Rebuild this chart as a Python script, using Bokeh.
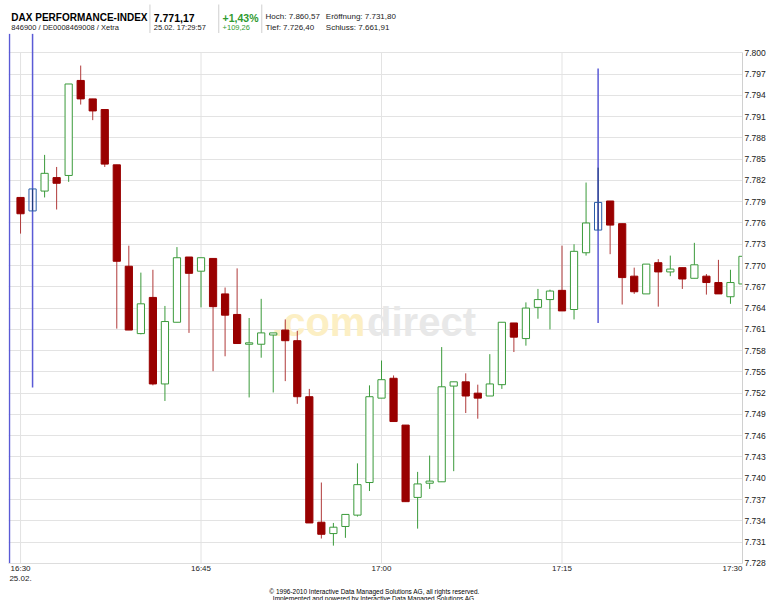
from bokeh.plotting import figure
from bokeh.models import Range1d, FixedTicker, LinearAxis
from bokeh.layouts import column
from bokeh.core.properties import value
from bokeh.embed import file_html
from bokeh.resources import INLINE

# ---------------- data (minutes after 16:30, index points) ----------------
minutes = list(range(61))
opens = [7.7796, 7.7777, 7.7805, 7.7824, 7.7827, 7.7961, 7.7935, 7.7920, 7.7842, 7.7699,
         7.7604, 7.7655, 7.7533, 7.7620, 7.7712, 7.7692, 7.7710, 7.7660, 7.7631, 7.7589,
         7.7589, 7.7602, 7.7609, 7.7594, 7.7515, 7.7338, 7.7322, 7.7332, 7.7348, 7.7394,
         7.7513, 7.7541, 7.7475, 7.7373, 7.7393, 7.7395, 7.7530, 7.7536, 7.7520, 7.7516,
         7.7532, 7.7619, 7.7597, 7.7641, 7.7652, 7.7665, 7.7638, 7.7718, 7.7750, 7.7791,
         7.7759, 7.7685, 7.7660, 7.7704, 7.7691, 7.7697, 7.7682, 7.7685, 7.7676, 7.7656,
         7.7674]
highs = [7.7796, 7.7808, 7.7856, 7.7839, 7.7956, 7.7982, 7.7935, 7.7920, 7.7842, 7.7728,
         7.7690, 7.7694, 7.7643, 7.7726, 7.7712, 7.7711, 7.7710, 7.7669, 7.7696, 7.7626,
         7.7653, 7.7605, 7.7624, 7.7608, 7.7526, 7.7394, 7.7337, 7.7349, 7.7421, 7.7531,
         7.7566, 7.7545, 7.7475, 7.7409, 7.7432, 7.7585, 7.7536, 7.7548, 7.7532, 7.7575,
         7.7620, 7.7619, 7.7648, 7.7667, 7.7666, 7.7728, 7.7730, 7.7817, 7.7838, 7.7791,
         7.7759, 7.7697, 7.7702, 7.7709, 7.7714, 7.7697, 7.7732, 7.7688, 7.7708, 7.7694,
         7.7746]
lows = [7.7745, 7.7777, 7.7796, 7.7779, 7.7818, 7.7927, 7.7905, 7.7839, 7.7611, 7.7609,
        7.7603, 7.7531, 7.7509, 7.7620, 7.7605, 7.7641, 7.7551, 7.7572, 7.7590, 7.7514,
        7.7570, 7.7521, 7.7537, 7.7505, 7.7337, 7.7315, 7.7305, 7.7316, 7.7346, 7.7382,
        7.7513, 7.7480, 7.7367, 7.7329, 7.7385, 7.7395, 7.7410, 7.7492, 7.7484, 7.7516,
        7.7526, 7.7578, 7.7587, 7.7625, 7.7610, 7.7636, 7.7624, 7.7714, 7.7750, 7.7716,
        7.7645, 7.7660, 7.7660, 7.7642, 7.7685, 7.7667, 7.7682, 7.7659, 7.7660, 7.7646,
        7.7628]
closes = [7.7773, 7.7808, 7.7830, 7.7816, 7.7956, 7.7935, 7.7918, 7.7843, 7.7706, 7.7609,
          7.7646, 7.7533, 7.7621, 7.7711, 7.7689, 7.7711, 7.7642, 7.7630, 7.7590, 7.7591,
          7.7605, 7.7605, 7.7594, 7.7515, 7.7337, 7.7321, 7.7331, 7.7349, 7.7391, 7.7515,
          7.7539, 7.7480, 7.7367, 7.7392, 7.7396, 7.7529, 7.7536, 7.7516, 7.7513, 7.7533,
          7.7620, 7.7599, 7.7640, 7.7652, 7.7664, 7.7636, 7.7720, 7.7760, 7.7789, 7.7757,
          7.7683, 7.7663, 7.7702, 7.7691, 7.7695, 7.7681, 7.7701, 7.7676, 7.7660, 7.7676,
          7.7713]
marked_minutes = [1, 48]

marker_minutes = [-0.92, 1, 48]
marker_tops = [7.8027, 7.8027, 7.7978]
marker_bottoms = [7.7280, 7.7528, 7.7619]

x_ticks = [0, 15, 30, 45, 60]
x_tick_labels = ["16:30", "16:45", "17:00", "17:15", "17:30"]
date_label = "25.02."
y_ticks = [7.728, 7.731, 7.734, 7.737, 7.740, 7.743, 7.746, 7.749, 7.752, 7.755,
           7.758, 7.761, 7.764, 7.767, 7.770, 7.773, 7.776, 7.779, 7.782, 7.785,
           7.788, 7.791, 7.794, 7.797, 7.800]
y_tick_labels = ["7.728", "7.731", "7.734", "7.737", "7.740", "7.743", "7.746", "7.749",
                 "7.752", "7.755", "7.758", "7.761", "7.764", "7.767", "7.770", "7.773",
                 "7.776", "7.779", "7.782", "7.785", "7.788", "7.791", "7.794", "7.797",
                 "7.800"]

RED = "#990000"
RED_WICK = "#b03a3a"
GREEN = "#3a9a3a"
BLUE = "#2a5ca8"
BLUE_LINE = "#5a5ad6"
GRID = "#e3e3e3"
FONT = "Liberation Sans"
TXT = "#222222"

W = 768


def blank_fig(h):
    f = figure(width=W, height=h, x_range=Range1d(0, W), y_range=Range1d(h, 0),
               output_backend="svg", toolbar_location=None,
               x_axis_type=None, y_axis_type=None,
               min_border=0, min_border_left=0, min_border_right=0,
               min_border_top=0, min_border_bottom=0)
    f.outline_line_color = None
    f.xgrid.visible = False
    f.ygrid.visible = False
    return f


def htext(fig, x, y, txt, size, color="#000000", bold=False, align="left"):
    fig.text(x=[x], y=[y], text=[txt], text_font=value(FONT), text_font_size=size,
             text_color=color, text_font_style="bold" if bold else "normal",
             text_align=align, text_baseline="alphabetic")


# ---------------- header ----------------
header = blank_fig(33)
htext(header, 3, 17, "DAX PERFORMANCE-INDEX", "10px", bold=True)
htext(header, 3, 27, "846900 / DE0008469008 / Xetra", "7.5px", TXT)
htext(header, 152, 17, "7.771,17", "10.5px", bold=True)
htext(header, 152, 27, "25.02. 17:29:57", "7.5px", TXT)
htext(header, 224, 17, "+1,43%", "10.5px", "#2f9a2f", bold=True)
htext(header, 224, 27, "+109,26", "7.5px", "#2f9a2f")
htext(header, 269, 15.5, "Hoch: 7.860,57", "8px", TXT)
htext(header, 332, 15.5, "Eröffnung: 7.731,80", "8px", TXT)
htext(header, 269, 26.5, "Tief: 7.726,40", "8px", TXT)
htext(header, 332, 26.5, "Schluss: 7.661,91", "8px", TXT)
header.segment(x0=[148, 220, 265], y0=[4, 4, 4], x1=[148, 220, 265], y1=[33, 33, 33],
               line_color="#cfcfcf", line_width=1)

# ---------------- main chart ----------------
p = figure(width=W, height=552, x_range=Range1d(-1, 60), y_range=Range1d(7.72798, 7.80272),
           y_axis_location="right", output_backend="svg", toolbar_location=None,
           min_border_left=8, min_border_top=0, min_border_right=24, min_border_bottom=22)
p.outline_line_color = None
p.background_fill_color = "white"

p.xgrid.visible = False
p.ygrid.ticker = FixedTicker(ticks=y_ticks)
p.ygrid.grid_line_color = GRID
p.ygrid.grid_line_width = 1

# vertical grid lines only across the labelled price band
p.segment(x0=x_ticks, y0=[y_ticks[0]] * len(x_ticks), x1=x_ticks, y1=[y_ticks[-1]] * len(x_ticks),
          line_color=GRID, line_width=1)

# watermark
p.text(x=[20.9], y=[7.7620], text=[".com"], text_font=value(FONT), text_font_size="40px",
       text_font_style="bold", text_color="#fcefc4", text_baseline="alphabetic")
p.text(x=[28.8], y=[7.7620], text=["direct"], text_font=value(FONT), text_font_size="40px",
       text_font_style="bold", text_color="#e8e8e8", text_baseline="alphabetic")

# blue vertical markers
p.segment(x0=marker_minutes, y0=marker_bottoms, x1=marker_minutes, y1=marker_tops,
          line_color=BLUE_LINE, line_width=1.5)

# candles
groups = {"red": dict(x=[], top=[], bottom=[], lo=[], hi=[]),
          "green": dict(x=[], top=[], bottom=[], lo=[], hi=[]),
          "blue": dict(x=[], top=[], bottom=[], lo=[], hi=[])}
for t, o, h, l, c in zip(minutes, opens, highs, lows, closes):
    if t in marked_minutes:
        g = "blue"
    elif c >= o:
        g = "green"
    else:
        g = "red"
    d = groups[g]
    d["x"].append(t)
    d["top"].append(max(o, c))
    d["bottom"].append(min(o, c))
    d["lo"].append(l)
    d["hi"].append(h)

wick_colors = {"red": RED_WICK, "green": GREEN, "blue": "#1c3c74"}
for g, d in groups.items():
    p.segment(x0=d["x"], y0=d["lo"], x1=d["x"], y1=d["hi"], line_color=wick_colors[g], line_width=1)

p.vbar(x=groups["red"]["x"], top=groups["red"]["top"], bottom=groups["red"]["bottom"], width=0.6,
       fill_color=RED, line_color=RED, line_width=1)
p.vbar(x=groups["green"]["x"], top=groups["green"]["top"], bottom=groups["green"]["bottom"], width=0.6,
       fill_color="white", line_color=GREEN, line_width=1)
p.vbar(x=groups["blue"]["x"], top=groups["blue"]["top"], bottom=groups["blue"]["bottom"], width=0.6,
       fill_alpha=0, line_color=BLUE, line_width=1)

# x axis: times (last label pushed left so it ends at the frame edge)
overrides = dict(zip(x_ticks, x_tick_labels))
overrides[x_ticks[-1]] = x_tick_labels[-1] + "\u00a0" * 9
p.xaxis.ticker = FixedTicker(ticks=x_ticks)
p.xaxis.major_label_overrides = overrides
p.xaxis.major_tick_line_color = None
p.xaxis.major_tick_out = 0
p.xaxis.major_tick_in = 0
p.xaxis.minor_tick_line_color = None
p.xaxis.minor_tick_out = 0
p.xaxis.axis_line_color = "#dddddd"
p.xaxis.major_label_standoff = 0
p.xaxis.major_label_text_font = FONT
p.xaxis.major_label_text_font_size = "8px"
p.xaxis.major_label_text_color = TXT

# second row under the first time label: the date
date_axis = LinearAxis(ticker=FixedTicker(ticks=[x_ticks[0]]),
                       major_label_overrides={x_ticks[0]: date_label},
                       axis_line_color=None, major_tick_line_color=None,
                       minor_tick_line_color=None, major_tick_out=0, major_tick_in=0,
                       minor_tick_out=0, major_label_standoff=0,
                       major_label_text_font=FONT, major_label_text_font_size="8px",
                       major_label_text_color=TXT)
p.add_layout(date_axis, "below")

p.yaxis.ticker = FixedTicker(ticks=y_ticks)
p.yaxis.major_label_overrides = dict(zip(y_ticks, y_tick_labels))
p.yaxis.bounds = (y_ticks[0], y_ticks[-1])
p.yaxis.major_tick_line_color = None
p.yaxis.major_tick_out = 0
p.yaxis.major_tick_in = 0
p.yaxis.minor_tick_line_color = None
p.yaxis.minor_tick_out = 0
p.yaxis.axis_line_color = "#d0d0d0"
p.yaxis.major_label_standoff = 2
p.yaxis.major_label_text_font = FONT
p.yaxis.major_label_text_font_size = "8.5px"
p.yaxis.major_label_text_color = TXT

# ---------------- footer ----------------
footer = blank_fig(15)
htext(footer, 383, 5.5, "© 1996-2010 Interactive Data Managed Solutions AG, all rights reserved.", "6.5px", align="center")
htext(footer, 383, 12.5, "Implemented and powered by Interactive Data Managed Solutions AG.", "6.5px", align="center")

layout = column(header, p, footer, spacing=0)
open("out.html", "w").write(file_html(layout, INLINE, title="DAX"))
